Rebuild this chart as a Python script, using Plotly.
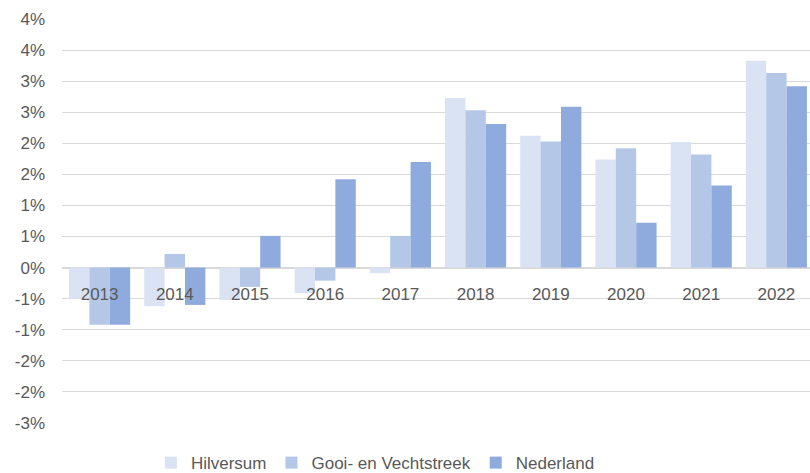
"""Jaarlijkse groei: Hilversum, Gooi- en Vechtstreek en Nederland."""

import plotly.graph_objects as go

jaren = ["2013", "2014", "2015", "2016", "2017", "2018", "2019", "2020", "2021", "2022"]

# groei in procenten
hilversum = [-0.50, -0.62, -0.52, -0.41, -0.09, 2.73, 2.12, 1.74, 2.02, 3.33]
gooi_vecht = [-0.92, 0.22, -0.31, -0.21, 0.51, 2.53, 2.03, 1.92, 1.82, 3.13]
nederland = [-0.92, -0.60, 0.51, 1.42, 1.70, 2.31, 2.59, 0.72, 1.32, 2.92]

y_ticks = [4.0, 3.5, 3.0, 2.5, 2.0, 1.5, 1.0, 0.5, 0.0, -0.5, -1.0, -1.5, -2.0, -2.5]
y_labels = ["4%", "4%", "3%", "3%", "2%", "2%", "1%", "1%", "0%",
            "-1%", "-1%", "-2%", "-2%", "-3%"]

series = [
    ("Hilversum", hilversum, "#dae3f3"),
    ("Gooi- en Vechtstreek", gooi_vecht, "#b4c7e7"),
    ("Nederland", nederland, "#8faadc"),
]

fig = go.Figure()
for naam, waarden, kleur in series:
    fig.add_trace(go.Bar(
        x=jaren,
        y=waarden,
        name=naam,
        marker=dict(color=kleur, line=dict(width=0)),
    ))

font = dict(family="Liberation Sans, Arial, sans-serif", size=17, color="#595959")

# positie van de nullijn binnen het plotgebied
y_min, y_max = -2.5, 4.0
nul_pos = (0 - y_min) / (y_max - y_min)

fig.update_layout(
    width=810,
    height=473,
    margin=dict(l=62, r=0, t=19, b=50),
    paper_bgcolor="white",
    plot_bgcolor="white",
    barmode="group",
    bargap=0.187,
    bargroupgap=0,
    font=font,
    showlegend=True,
    legend=dict(
        orientation="h",
        x=0.419,
        xanchor="center",
        yref="container",
        y=0.021,
        yanchor="middle",
        font=font,
        itemwidth=30,
    ),
    xaxis=dict(
        type="category",
        range=[-0.5, 9.447],
        anchor="free",
        position=nul_pos,
        automargin=False,
        showgrid=False,
        showline=False,
        ticks="",
        ticklabelstandoff=14,
        tickfont=font,
    ),
    yaxis=dict(
        range=[y_min, y_max],
        tickvals=y_ticks,
        ticktext=y_labels,
        automargin=False,
        showgrid=True,
        gridcolor="#d9d9d9",
        gridwidth=1,
        zeroline=True,
        zerolinecolor="#d9d9d9",
        zerolinewidth=1.5,
        showline=False,
        ticks="",
        ticklabelstandoff=16,
        tickfont=font,
    ),
)

# geen paginamarge, zodat de figuur precies in het venster past
fig.write_html(
    "out.html",
    config={"displayModeBar": False},
    post_script="document.body.style.margin = '0';",
)
